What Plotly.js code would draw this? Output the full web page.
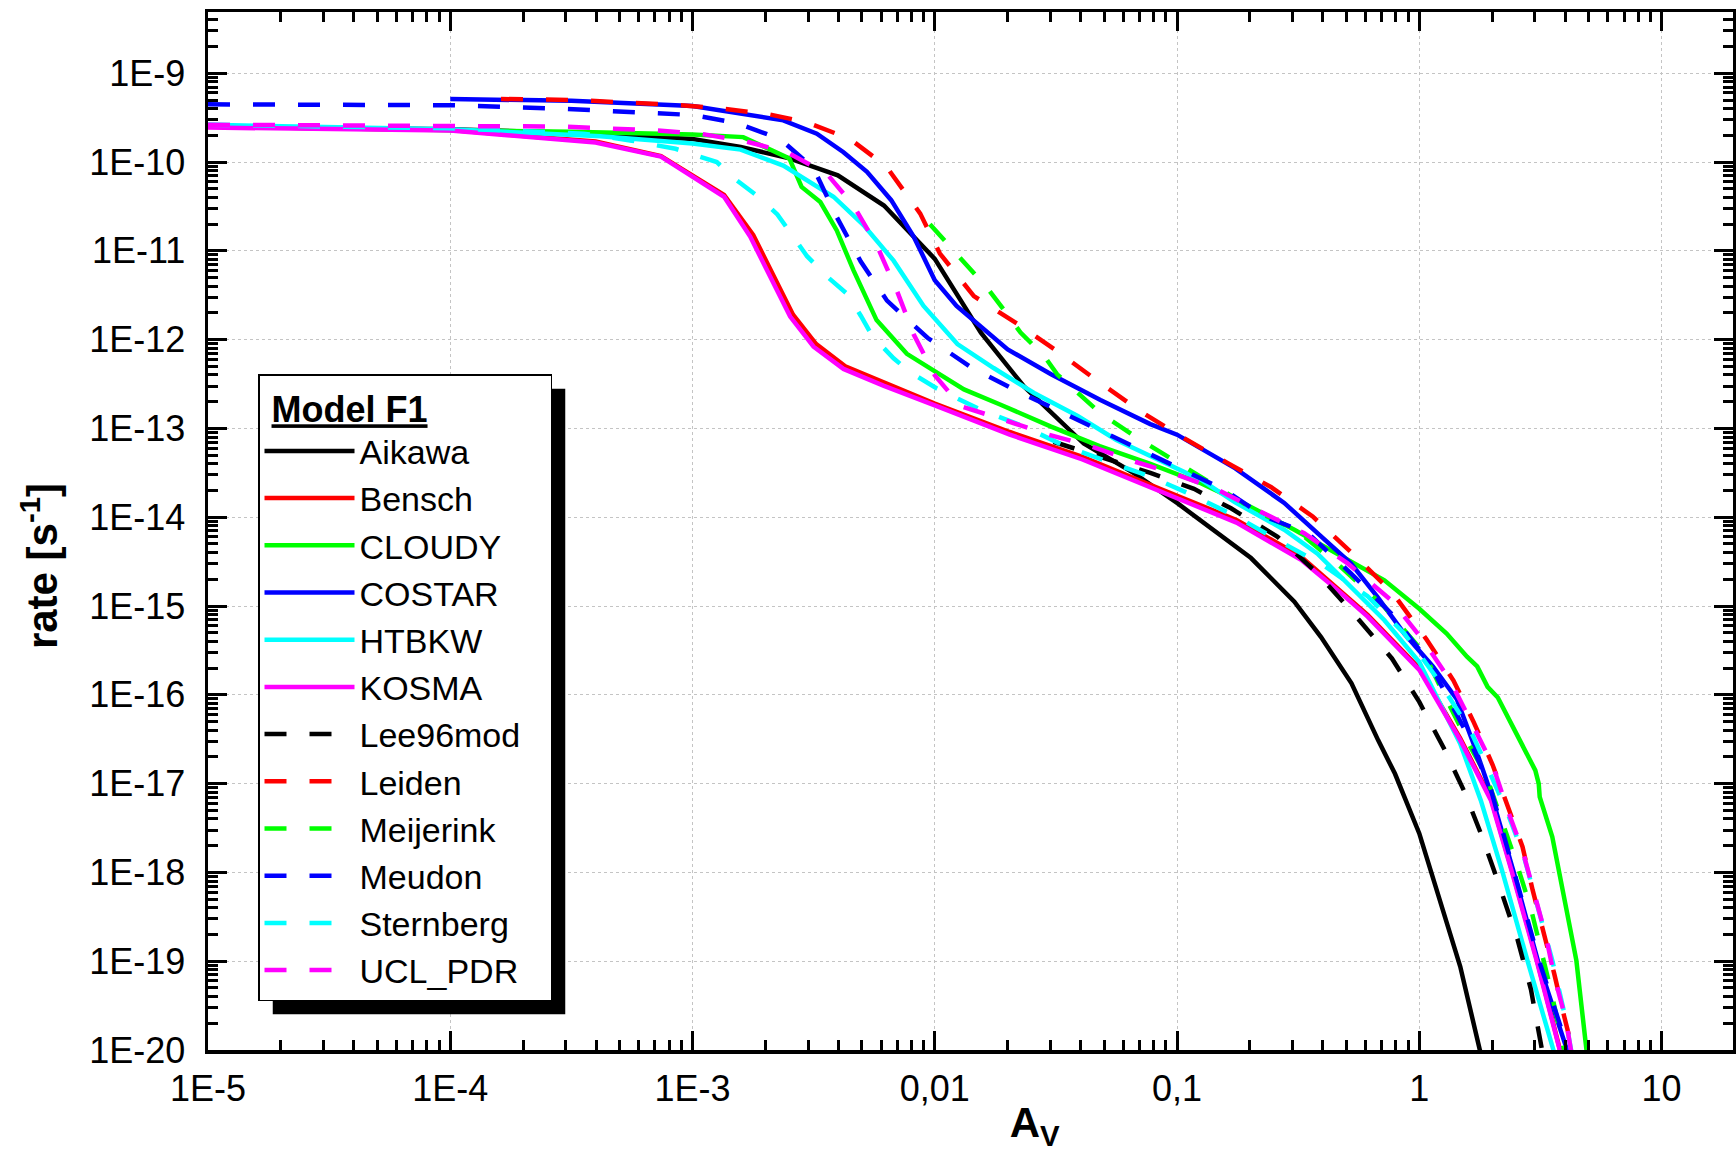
<!DOCTYPE html>
<html>
<head>
<meta charset="utf-8">
<script src="https://cdn.plot.ly/plotly-3.0.1.min.js"></script>
<style>
  html, body { margin: 0; padding: 0; background: #fff; }
  #chart { width: 1736px; height: 1152px; }
</style>
</head>
<body>
<div id="chart"></div>
<script>
// ---------- data ----------
const modelNames = ['Aikawa','Bensch','CLOUDY','COSTAR','HTBKW','KOSMA','Lee96mod','Leiden','Meijerink','Meudon','Sternberg','UCL_PDR'];

const aikawaAv   = [1e-5,1e-4,3.16e-4,1e-3,1.58e-3,2.51e-3,3.98e-3,6.17e-3,0.01,0.0155,0.0234,0.0412,0.0661,0.1,0.202,0.305,0.393,0.525,0.676,0.794,1,1.216,1.476,1.778,1.862];
const aikawaRate = [2.51e-10,2.34e-10,2.14e-10,1.82e-10,1.48e-10,1.10e-10,7.08e-11,3.24e-11,8.13e-12,1.20e-12,2.95e-13,6.76e-14,3.16e-14,1.45e-14,3.47e-15,1.12e-15,4.47e-16,1.35e-16,3.09e-17,1.29e-17,2.75e-18,4.90e-19,8.71e-20,1e-20,7.08e-21];

const benschAv   = [1e-5,1e-4,3.98e-4,7.41e-4,1.35e-3,1.78e-3,2.60e-3,3.24e-3,4.27e-3,6.31e-3,0.01,0.0204,0.0407,0.0851,0.176,0.324,0.460,0.612,1,1.476,1.977,2.415,3.055,3.80,3.98];
const benschRate = [2.51e-10,2.29e-10,1.70e-10,1.17e-10,4.27e-11,1.51e-11,1.91e-12,8.91e-13,5.01e-13,3.24e-13,1.91e-13,9.12e-14,4.79e-14,2.09e-14,9.33e-15,3.63e-15,1.58e-15,7.94e-16,2.0e-16,3.24e-17,6.76e-18,1.05e-18,1.05e-19,1.05e-20,6.31e-21];

const cloudyAv   = [1e-5,1e-4,3.16e-4,1e-3,1.62e-3,2.51e-3,2.82e-3,3.37e-3,3.94e-3,4.62e-3,5.75e-3,7.67e-3,0.01,0.0132,0.0186,0.0302,0.0479,0.0776,0.126,0.200,0.305,0.460,0.718,1,1.297,1.574,1.734,1.914,2.109,2.477,3.013,3.112,3.141,3.54,4.10,4.45,4.90,5.01];
const cloudyRate = [2.51e-10,2.32e-10,2.19e-10,2.04e-10,1.91e-10,1.10e-10,5.25e-11,3.55e-11,1.70e-11,6.03e-12,1.66e-12,6.92e-13,4.37e-13,2.75e-13,1.86e-13,1.05e-13,6.31e-14,3.98e-14,2.40e-14,1.32e-14,7.24e-15,3.89e-15,1.95e-15,9.33e-16,4.90e-16,2.69e-16,2.09e-16,1.23e-16,9.33e-17,3.98e-17,1.41e-17,1e-17,7.08e-18,2.51e-18,3.47e-19,1.02e-19,1e-20,6.31e-21];

const costarAv   = [1e-4,3.16e-4,1e-3,1.47e-3,2.37e-3,3.26e-3,4.20e-3,5.25e-3,6.61e-3,8.18e-3,0.01,0.0123,0.0158,0.0200,0.0302,0.0483,0.0776,0.1,0.174,0.277,0.380,0.522,0.673,0.867,1.138,1.429,1.734,1.977,2.455,3.090,4.074,4.217];
const costarRate = [5.13e-10,4.90e-10,4.27e-10,3.63e-10,2.95e-10,2.09e-10,1.29e-10,7.76e-11,3.72e-11,1.45e-11,4.68e-12,2.40e-12,1.32e-12,7.76e-13,4.07e-13,2.09e-13,1.12e-13,8.51e-14,3.55e-14,1.45e-14,6.61e-15,3.02e-15,1.26e-15,4.90e-16,2.09e-16,8.91e-17,2.19e-17,7.76e-18,1e-18,1e-19,1e-20,6.31e-21];

const htbkwAv   = [1e-5,1e-4,4.17e-4,1e-3,1.58e-3,2.37e-3,3.82e-3,5.08e-3,6.76e-3,8.99e-3,0.0124,0.0175,0.0257,0.0389,0.0562,0.0851,0.126,0.173,0.277,0.380,0.522,0.718,1,1.216,1.476,1.795,2.208,2.80,3.606,3.758];
const htbkwRate = [2.63e-10,2.34e-10,1.95e-10,1.62e-10,1.38e-10,9.12e-11,4.07e-11,1.95e-11,7.76e-12,2.40e-12,8.91e-13,4.79e-13,2.51e-13,1.38e-13,7.41e-14,4.37e-14,2.63e-14,1.48e-14,7.24e-15,3.89e-15,1.66e-15,6.92e-16,2.34e-16,8.32e-17,2.82e-17,6.46e-18,1e-18,1e-19,1e-20,6.31e-21];

const kosmaAv   = [1e-5,1e-4,3.98e-4,7.41e-4,1.35e-3,1.73e-3,2.53e-3,3.16e-3,4.20e-3,6.17e-3,0.01,0.0204,0.0407,0.0851,0.176,0.325,0.460,0.612,1,1.476,1.977,2.415,3.055,3.80,3.98];
const kosmaRate = [2.45e-10,2.26e-10,1.66e-10,1.15e-10,4.07e-11,1.45e-11,1.82e-12,8.32e-13,4.68e-13,3.02e-13,1.82e-13,8.51e-14,4.47e-14,1.95e-14,8.71e-15,3.31e-15,1.51e-15,7.59e-16,1.91e-16,3.09e-17,6.46e-18,1e-18,1e-19,1e-20,6.31e-21];

const lee96Av   = [0.0309,0.0483,0.0776,0.1175,0.167,0.260,0.380,0.557,0.771,1,1.268,1.535,1.795,2.104,2.547,2.891,3.228,3.311];
const lee96Rate = [7.08e-14,4.79e-14,3.16e-14,2.09e-14,1.26e-14,6.03e-15,2.34e-15,7.24e-16,2.57e-16,8.32e-17,2.45e-17,8.13e-18,2.75e-18,8.13e-19,1.74e-19,4.79e-20,1e-20,6.31e-21];

const leidenAv   = [1.62e-4,3.16e-4,8.91e-4,1.35e-3,2.04e-3,2.95e-3,4.47e-3,6.31e-3,8.71e-3,0.0105,0.0145,0.0219,0.0320,0.0483,0.0728,0.107,0.162,0.244,0.363,0.540,0.776,1.067,1.384,1.679,2.009,2.317,2.667,2.938,3.281,3.606,3.963,4.295,4.416];
const leidenRate = [5.13e-10,5.01e-10,4.37e-10,3.98e-10,3.47e-10,2.82e-10,1.82e-10,8.91e-11,2.63e-11,9.33e-12,3.09e-12,1.51e-12,7.41e-13,3.24e-13,1.48e-13,7.76e-14,4.07e-14,2.19e-14,1.02e-14,3.72e-15,1.41e-15,4.27e-16,1.45e-16,4.90e-17,1.62e-17,5.50e-18,1.95e-18,6.31e-19,2.04e-19,7.24e-20,2.40e-20,1e-20,6.31e-21];

const meijerinkAv   = [9.55e-3,0.0117,0.0141,0.0166,0.0200,0.0226,0.0282,0.0320,0.0483,0.0708,0.1,0.138,0.209,0.316,0.475,0.718,1.047,1.216,1.626,1.884,2.213,2.523,2.891,3.467,3.963,4.074];
const meijerinkRate = [2.0e-11,1.07e-11,5.89e-12,3.72e-12,1.91e-12,1.20e-12,6.61e-13,4.07e-13,1.48e-13,7.41e-14,4.17e-14,2.40e-14,1.20e-14,6.92e-15,2.75e-15,9.77e-16,2.95e-16,1.26e-16,2.57e-17,1.26e-17,3.55e-18,1.26e-18,3.89e-19,5.13e-20,1e-20,6.31e-21];

const meudonAv   = [1e-5,1e-4,2.90e-4,1e-3,1.52e-3,2.30e-3,3.16e-3,3.94e-3,4.95e-3,6.35e-3,9.33e-3,0.0141,0.0212,0.0320,0.0483,0.0708,0.107,0.157,0.229,0.347,0.522,0.764,1.096,1.574,1.977,2.455,3.126,4.121,4.266];
const meudonRate = [4.47e-10,4.37e-10,3.98e-10,3.39e-10,2.75e-10,1.82e-10,8.51e-11,2.40e-11,7.59e-12,2.75e-12,1.05e-12,4.90e-13,2.75e-13,1.62e-13,9.55e-14,5.75e-14,3.39e-14,2.04e-14,1.02e-14,6.61e-15,2.34e-15,8.32e-16,2.34e-16,3.63e-17,8.51e-18,1e-18,1e-19,1e-20,6.31e-21];

const sternbergAv   = [1e-5,1e-4,3.55e-4,5.62e-4,8.51e-4,1.26e-3,1.48e-3,1.91e-3,2.24e-3,2.63e-3,2.97e-3,3.63e-3,4.37e-3,4.95e-3,5.52e-3,6.76e-3,7.94e-3,0.0102,0.0155,0.0234,0.0339,0.0513,0.0776,0.1175,0.178,0.269,0.406,0.612,0.867,1.175,1.626,1.905,2.291,2.692,3.090,3.548,3.981,4.266,4.365];
const sternbergRate = [2.63e-10,2.40e-10,2.09e-10,1.74e-10,1.41e-10,1e-10,6.61e-11,3.89e-11,2.57e-11,1.41e-11,8.71e-12,5.01e-12,3.24e-12,1.86e-12,1.10e-12,6.17e-13,4.27e-13,2.82e-13,1.62e-13,1.05e-13,6.46e-14,4.27e-14,2.88e-14,1.74e-14,1e-14,5.25e-15,2.82e-15,1.29e-15,4.90e-16,1.58e-16,3.98e-17,1.55e-17,5.01e-18,1.58e-18,3.98e-19,1e-19,2.51e-20,1e-20,6.31e-21];

const uclAv   = [1e-5,1e-4,2.88e-4,4.17e-4,6.76e-4,1.07e-3,1.62e-3,2.45e-3,3.58e-3,4.62e-3,5.75e-3,6.98e-3,8.18e-3,0.01,0.0128,0.0191,0.0295,0.0441,0.0661,0.1,0.147,0.215,0.335,0.506,0.764,1.033,1.340,1.626,2.009,2.317,2.667,2.985,3.334,3.606,4.027,4.227,4.365];
const uclRate = [2.63e-10,2.51e-10,2.51e-10,2.40e-10,2.29e-10,2.09e-10,1.74e-10,1.29e-10,7.41e-11,3.24e-11,1.17e-11,3.55e-12,1.15e-12,3.98e-13,1.78e-13,1.26e-13,8.51e-14,6.31e-14,4.27e-14,3.02e-14,2.04e-14,1.20e-14,6.61e-15,3.02e-15,1.17e-15,4.17e-16,1.45e-16,5.13e-17,1.62e-17,5.01e-18,1.78e-18,5.75e-19,1.91e-19,6.76e-20,2.19e-20,1e-20,6.31e-21];

const seriesAv   = [aikawaAv, benschAv, cloudyAv, costarAv, htbkwAv, kosmaAv, lee96Av, leidenAv, meijerinkAv, meudonAv, sternbergAv, uclAv];
const seriesRate = [aikawaRate, benschRate, cloudyRate, costarRate, htbkwRate, kosmaRate, lee96Rate, leidenRate, meijerinkRate, meudonRate, sternbergRate, uclRate];

const xTickVals = [1e-5,1e-4,1e-3,0.01,0.1,1,10];
const xTickText = ['1E-5','1E-4','1E-3','0,01','0,1','1','10'];
const yTickVals = [1e-20,1e-19,1e-18,1e-17,1e-16,1e-15,1e-14,1e-13,1e-12,1e-11,1e-10,1e-9];
const yTickText = ['1E-20','1E-19','1E-18','1E-17','1E-16','1E-15','1E-14','1E-13','1E-12','1E-11','1E-10','1E-9'];

const legendTitle = 'Model F1';
const xTitle = 'A<sub>V</sub>';
const yTitle = 'rate [s<sup>-1</sup>]';

// ---------- styles ----------
const lineColors = ['#000000','#ff0000','#00ff00','#0000ff','#00ffff','#ff00ff','#000000','#ff0000','#00ff00','#0000ff','#00ffff','#ff00ff'];
const DASH = '22px,23px';
const lineDashes = ['solid','solid','solid','solid','solid','solid',DASH,DASH,DASH,DASH,DASH,DASH];

const FONT = 'Liberation Sans, Arial, sans-serif';
const pad = n => '&nbsp;'.repeat(n);

const traces = modelNames.map((n, i) => ({
  type: 'scatter',
  mode: 'lines',
  name: n,
  x: seriesAv[i],
  y: seriesRate[i],
  line: { color: lineColors[i], width: 4.5, dash: lineDashes[i] }
}));

const L = 208, R = 3, T = 12, B = 102;
const W = 1736, H = 1152;
const PW = W - L - R, PH = H - T - B;

const axisCommon = {
  type: 'log',
  showline: true,
  linecolor: '#000',
  linewidth: 3.5,
  mirror: 'allticks',
  ticks: 'inside',
  ticklen: 19,
  tickwidth: 3,
  tickcolor: '#000',
  showgrid: true,
  gridcolor: '#c4c4c4',
  gridwidth: 1,
  griddash: 'dot',
  zeroline: false,
  automargin: false,
  tickmode: 'array',
  tickfont: { family: FONT, size: 36, color: '#000' },
  minor: { ticks: 'inside', ticklen: 10, tickwidth: 3, tickcolor: '#000', dtick: 'D1', showgrid: false }
};

const layout = {
  width: W, height: H,
  margin: { l: L, r: R, t: T, b: B },
  paper_bgcolor: '#fff',
  plot_bgcolor: '#fff',
  font: { family: FONT, color: '#000' },
  showlegend: true,
  xaxis: Object.assign({}, axisCommon, {
    range: [-5, 1.295],
    tickvals: xTickVals,
    ticktext: xTickText,
    ticklabelstandoff: 4,
    title: { text: pad(11) + '<b>' + xTitle + '</b>', font: { family: FONT, size: 42, color: '#000' }, standoff: 10 }
  }),
  yaxis: Object.assign({}, axisCommon, {
    range: [-20, -8.31],
    tickvals: yTickVals,
    ticktext: yTickText,
    ticklabelstandoff: 12,
    title: { text: '<b>' + yTitle + '</b>' + pad(6), font: { family: FONT, size: 42, color: '#000' }, standoff: 19 }
  }),
  legend: {
    x: (258 - L) / PW,
    y: 1 - (374 - T) / PH,
    xanchor: 'left',
    yanchor: 'top',
    bgcolor: '#fff',
    bordercolor: '#000',
    borderwidth: 1.5,
    itemwidth: 90,
    tracegroupgap: 0,
    font: { family: FONT, size: 34, color: '#000' },
    title: { text: pad(1) + '<b><u>' + legendTitle + '</u></b>' + pad(12), font: { family: FONT, size: 36, color: '#000' } }
  }
};

const gd = document.getElementById('chart');
Plotly.newPlot(gd, traces, layout, { staticPlot: true, displayModeBar: false }).then(() => {
  // drop shadow behind the legend box
  const bg = gd.querySelector('.legend .bg');
  if (!bg) return;
  const gr = gd.getBoundingClientRect();
  const r = bg.getBoundingClientRect();
  const off = 14;
  const x0 = (r.left - gr.left + off - L) / PW;
  const x1 = (r.right - gr.left + off - L) / PW;
  const y0 = 1 - (r.bottom - gr.top + off - T) / PH;
  const y1 = 1 - (r.top - gr.top + off - T) / PH;
  return Plotly.relayout(gd, {
    shapes: [{ type: 'rect', xref: 'paper', yref: 'paper', x0: x0, x1: x1, y0: y0, y1: y1,
               fillcolor: '#000', line: { width: 0 }, layer: 'above' }]
  });
});
</script>
</body>
</html>
